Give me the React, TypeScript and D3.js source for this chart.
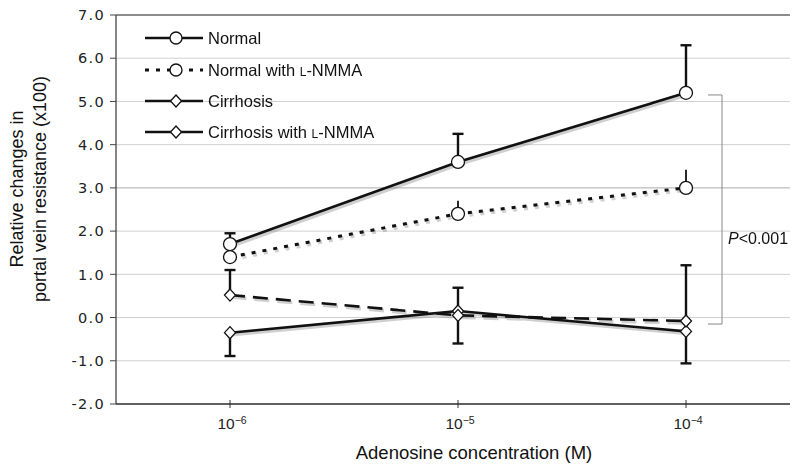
import React from "react";
import * as d3 from "d3";

const W = 792;
const H = 468;

const concentrations = [1e-6, 1e-5, 1e-4];
const tickLabels = ["10\u22126", "10\u22125", "10\u22124"];
const yTicks = [-2, -1, 0, 1, 2, 3, 4, 5, 6, 7];

const normal = [1.7, 3.6, 5.2];
const normalErrUp = [0.25, 0.65, 1.1];
const normalNmma = [1.4, 2.4, 3.0];
const normalNmmaErrUp = [0.3, 0.3, 0.42];
const cirrhosis = [-0.35, 0.15, -0.32];
const cirrhosisErrDown = [0.54, 0.75, 0.74];
const cirrhosisNmma = [0.52, 0.05, -0.08];
const cirrhosisNmmaErrUp = [0.58, 0.64, 1.29];

const bracket = [5.15, -0.15];

type Series = {
  name: string;
  values: number[];
  up?: number[];
  down?: number[];
  dash: string;
  marker: "circle" | "diamond";
  cap: boolean;
  width: number;
};

const series: Series[] = [
  { name: "Normal", values: normal, up: normalErrUp, dash: "", marker: "circle", cap: true, width: 2.6 },
  { name: "Normal with ", values: normalNmma, up: normalNmmaErrUp, dash: "4,7", marker: "circle", cap: false, width: 3 },
  { name: "Cirrhosis", values: cirrhosis, down: cirrhosisErrDown, dash: "", marker: "diamond", cap: true, width: 2.6 },
  { name: "Cirrhosis with ", values: cirrhosisNmma, up: cirrhosisNmmaErrUp, dash: "15,8", marker: "diamond", cap: true, width: 2.6 },
];

const x = d3.scaleLog().domain([10 ** -6.5, 10 ** -3.5]).range([116, 800]);
const y = d3.scaleLinear().domain([-2, 7]).range([404, 15]);
const RIGHT = 790;

const Marker = ({ kind, cx, cy, r = 6.5 }: { kind: string; cx: number; cy: number; r?: number }) =>
  kind === "circle" ? (
    <circle cx={cx} cy={cy} r={r} fill="white" stroke="#111" strokeWidth={1.3} />
  ) : (
    <path
      d={`M${cx},${cy - 6}L${cx + 5.5},${cy}L${cx},${cy + 6}L${cx - 5.5},${cy}Z`}
      fill="white"
      stroke="#111"
      strokeWidth={1.3}
    />
  );

export default function App() {
  const line = d3
    .line<number>()
    .x((_, i) => x(concentrations[i]))
    .y((d) => y(d));

  const legendY = [38, 70, 101, 132];

  return (
    <svg width={W} height={H} style={{ position: "absolute", left: 0, top: 0, background: "white" }}>
      {/* grid */}
      <g>
        {yTicks.map((t) => (
          <line
            key={t}
            x1={x.range()[0]}
            x2={RIGHT}
            y1={y(t)}
            y2={y(t)}
            stroke={t === 7 ? "#666" : t === 3 ? "#aaa" : "#d0d0d0"}
            strokeWidth={t === 7 ? 1.5 : 1}
          />
        ))}
        {yTicks.map((t) => (
          <line key={"tk" + t} x1={110} x2={116} y1={y(t)} y2={y(t)} stroke="#444" />
        ))}
        <line x1={116} x2={116} y1={y(7)} y2={y(-2)} stroke="#444" strokeWidth={1.3} />
        <line x1={116} x2={RIGHT} y1={y(-2)} y2={y(-2)} stroke="#333" strokeWidth={1.3} />
        {concentrations.map((c) => (
          <line key={c} x1={x(c)} x2={x(c)} y1={y(-2) - 4} y2={y(-2) + 4} stroke="#333" />
        ))}
      </g>

      {/* y tick labels */}
      <g fontFamily="DejaVu Sans" fontSize={14.5} fill="#222" textAnchor="end" letterSpacing={1.3}>
        {yTicks.map((t) => (
          <text key={t} x={105} y={y(t)} dy="0.36em">
            {d3.format(".1f")(t).replace("\u2212", "-")}
          </text>
        ))}
      </g>

      {/* x tick labels */}
      <g fontFamily="Liberation Sans" fontSize={15.5} fill="#222" textAnchor="middle">
        {concentrations.map((c, i) => (
          <text key={c} x={x(c) + 2} y={429}>
            {tickLabels[i].slice(0, 2)}
            <tspan fontSize={10.5} dy={-5}>
              {tickLabels[i].slice(2)}
            </tspan>
          </text>
        ))}
      </g>

      {/* axis titles */}
      <text x={474} y={459} textAnchor="middle" fontFamily="Liberation Sans" fontSize={18.5} fill="#111">
        Adenosine concentration (M)
      </text>
      <g transform="translate(23,189) rotate(-90)" fontFamily="Liberation Sans" fontSize={18} fill="#111" textAnchor="middle">
        <text x={0} y={0}>Relative changes in</text>
        <text x={0} y={23}>portal vein resistance (x100)</text>
      </g>

      {/* shadows */}
      <g opacity={0.35}>
        {series.map((s) => (
          <path
            key={s.name}
            d={line(s.values) || ""}
            transform="translate(1.5,2)"
            fill="none"
            stroke="#777"
            strokeWidth={s.width + 1}
            strokeDasharray={s.dash}
          />
        ))}
      </g>

      {/* series */}
      {series.map((s) => (
        <g key={s.name}>
          <path d={line(s.values) || ""} fill="none" stroke="#111" strokeWidth={s.width} strokeDasharray={s.dash} />
          {s.values.map((v, i) => {
            const cx = x(concentrations[i]);
            const top = s.up ? v + s.up[i] : v;
            const bot = s.down ? v - s.down[i] : v;
            const end = s.up ? top : bot;
            return (
              <g key={i}>
                <line x1={cx} x2={cx} y1={y(top)} y2={y(bot)} stroke="#111" strokeWidth={s.cap ? 2.4 : 1.8} />
                {s.cap && <line x1={cx - 5.5} x2={cx + 5.5} y1={y(end)} y2={y(end)} stroke="#111" strokeWidth={2.4} />}
              </g>
            );
          })}
        </g>
      ))}
      {series.map((s) =>
        s.values.map((v, i) => <Marker key={s.name + i} kind={s.marker} cx={x(concentrations[i])} cy={y(v)} />)
      )}

      {/* P bracket */}
      <g stroke="#888" strokeWidth={1} fill="none">
        <path
          d={`M${x(1e-4) + 22},${y(bracket[0])}H${x(1e-4) + 36}V${y(bracket[1])}H${x(1e-4) + 22}`}
        />
      </g>
      <text x={x(1e-4) + 42} y={244} fontFamily="Liberation Sans" fontSize={16} fill="#111">
        <tspan fontStyle="italic">P</tspan>&lt;0.001
      </text>

      {/* legend */}
      <g fontFamily="Liberation Sans" fontSize={16.5} fill="#111">
        {series.map((s, i) => (
          <g key={s.name}>
            <line
              x1={145}
              x2={203}
              y1={legendY[i]}
              y2={legendY[i]}
              stroke="#111"
              strokeWidth={s.width}
              strokeDasharray={i === 1 ? "4,7" : ""}
            />
            <Marker kind={s.marker} cx={176} cy={legendY[i]} r={6} />
            <text x={208} y={legendY[i]} dy="0.35em">
              {s.name}
              {s.name.endsWith(" ") && (
                <>
                  <tspan fontSize={12}>L</tspan>-NMMA
                </>
              )}
            </text>
          </g>
        ))}
      </g>
    </svg>
  );
}
